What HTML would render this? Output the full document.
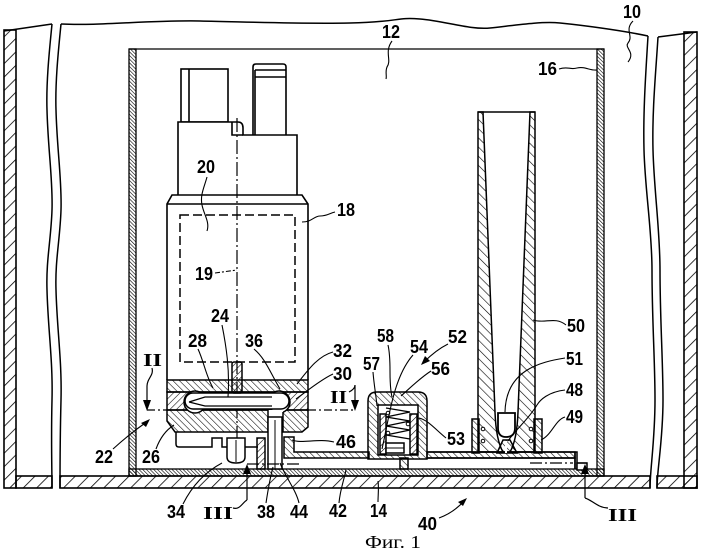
<!DOCTYPE html>
<html><head><meta charset="utf-8"><style>
html,body{margin:0;padding:0;background:#fff;}
svg{display:block;}
text{font-family:"Liberation Sans",sans-serif;font-weight:bold;font-size:18px;fill:#000;}
text.r{font-family:"Liberation Serif",serif;font-weight:normal;}
text.rb{font-family:"Liberation Serif",serif;font-weight:bold;}
</style></head><body>
<svg width="702" height="555" viewBox="0 0 702 555" xmlns="http://www.w3.org/2000/svg">
<defs>
<pattern id="hT" width="9.5" height="9.5" patternUnits="userSpaceOnUse" patternTransform="rotate(45)"><line x1="0" y1="0" x2="0" y2="9.5" stroke="#000" stroke-width="1.6"/></pattern>
<pattern id="hF" width="2.6" height="2.6" patternUnits="userSpaceOnUse" patternTransform="rotate(-45)"><line x1="0" y1="0" x2="0" y2="2.6" stroke="#000" stroke-width="1.2"/></pattern>
<pattern id="hA" width="4.6" height="4.6" patternUnits="userSpaceOnUse" patternTransform="rotate(-45)"><line x1="0" y1="0" x2="0" y2="4.6" stroke="#000" stroke-width="1.1"/></pattern>
<pattern id="hB" width="4.6" height="4.6" patternUnits="userSpaceOnUse" patternTransform="rotate(45)"><line x1="0" y1="0" x2="0" y2="4.6" stroke="#000" stroke-width="1.1"/></pattern>
<pattern id="hJ" width="6.5" height="6.5" patternUnits="userSpaceOnUse" patternTransform="rotate(-45)"><line x1="0" y1="0" x2="0" y2="6.5" stroke="#000" stroke-width="1.2"/></pattern>
</defs>

<!-- ===== Tank 10 ===== -->
<g stroke="#000" stroke-width="1.6">
  <rect x="4" y="30" width="12" height="458" fill="url(#hT)"/>
  <rect x="16" y="476" width="36" height="12" fill="url(#hT)"/>
  <rect x="60" y="476" width="590" height="12" fill="url(#hT)"/>
  <rect x="657" y="476" width="40" height="12" fill="url(#hT)"/>
  <rect x="684" y="32" width="13" height="456" fill="url(#hT)"/>
</g>
<g stroke="#000" stroke-width="1.5" fill="none">
  <path d="M4,31 L52,24"/>
  <path d="M52,24 C50,45 46,80 47,110 C48,150 53,180 52,210 C51,240 46,260 47,290 C48,330 53,360 52,400 C51,440 52,470 52,488"/>
  <path d="M61,24 C59,45 55,80 56,110 C57,150 62,180 61,210 C60,240 55,260 56,290 C57,330 62,360 61,400 C60,440 60,470 60,488"/>
  <path d="M61,24 C100,26 150,20 200,21 S300,24 350,23 S395,17 420,19 S470,30 490,28 S540,21 560,23 S620,30 648,36"/>
  <path d="M648,36 C646,70 643,110 644,150 C645,190 652,230 652,270 C652,320 655,360 655,400 C655,440 650,470 650,488"/>
  <path d="M658,37 C656,70 652,110 653,150 C654,190 660,230 660,270 C660,320 663,360 663,400 C663,440 657,470 657,488"/>
  <path d="M658,37 L697,32"/>
</g>

<!-- ===== Reservoir 12 / wall 16 ===== -->
<g stroke="#000" stroke-width="1.3">
  <rect x="129" y="49" width="7" height="427" fill="url(#hF)"/>
  <rect x="597" y="49" width="7" height="427" fill="url(#hF)"/>
  <rect x="129" y="469" width="475" height="7" fill="url(#hF)"/>
  <line x1="129" y1="49" x2="604" y2="49"/>
</g>

<!-- ===== Pump 18 ===== -->
<g stroke="#000" stroke-width="1.6" fill="#fff">
  <rect x="181" y="69" width="47" height="53"/>
  <line x1="189" y1="69" x2="189" y2="122"/>
  <path d="M253,135 V67 Q253,64 256,64 H283 Q286,64 286,67 V135"/>
  <line x1="255" y1="70" x2="286" y2="70"/>
  <line x1="255" y1="77" x2="286" y2="77"/>
  <line x1="255" y1="70" x2="255" y2="135"/>
  <path d="M178,195 V122 H238 Q243,122 243,128 V135 H297 V195"/>
  <path d="M232,122 V135 H243" fill="none"/>
  <path d="M167,380 V204 L172,195 H302 L308,204 V380"/>
  <line x1="167" y1="204" x2="308" y2="204"/>
</g>
<rect x="180" y="215" width="115" height="147" fill="none" stroke="#000" stroke-width="1.5" stroke-dasharray="9,4"/>
<!-- axis 19 -->
<line x1="237" y1="118" x2="237" y2="463" stroke="#000" stroke-width="1.2" stroke-dasharray="14,3,2,3"/>

<!-- lower bands -->
<g stroke="#000" stroke-width="1.5">
  <rect x="167" y="380" width="141" height="12" fill="url(#hA)"/>
  <rect x="167" y="392" width="141" height="18" fill="url(#hB)"/>
  <path d="M167,410 H308 V427 L302,432 H175 L167,421 Z" fill="url(#hA)"/>
  <circle cx="195" cy="402" r="11" fill="#fff"/>
  <circle cx="279" cy="402" r="11" fill="#fff"/>
  <rect x="185" y="393" width="104" height="16" rx="8" fill="#fff"/>
  <path d="M268,410 H283 V432 H268 Z" fill="#fff" stroke="none"/>
  <line x1="268" y1="410" x2="268" y2="432"/>
  <line x1="283" y1="412" x2="283" y2="432"/>
  <path d="M189,402 L205,397 H272 M189,402 L205,406 H272" fill="none" stroke-width="1.2"/>
  <rect x="232" y="362" width="10" height="31" rx="2" fill="url(#hB)"/>
  <path d="M176,432 V444 Q176,447 179,447 H212 V438 H222 V447 H227" fill="none"/>
  <path d="M245,447 H258" fill="none"/>
  <path d="M227,438 H245 V457 Q245,463 236,463 Q227,463 227,457 Z" fill="#fff"/>
  <line x1="236" y1="440" x2="236" y2="462" stroke-width="1"/>
  <rect x="257" y="438" width="8" height="31" fill="url(#hB)"/>
  <rect x="268" y="417" width="14" height="52" fill="#fff"/>
  <line x1="275" y1="420" x2="275" y2="469" stroke-width="1"/>
  <path d="M284,437 H294 V452 H369 V458 H284 Z" fill="url(#hA)"/>
</g>

<!-- ===== Pipe 42 & valve 52 ===== -->
<g stroke="#000" stroke-width="1.5">
  <path d="M368,459 V401 Q368,392 377,392 H418 Q427,392 427,401 V459 Z" fill="url(#hA)"/>
  <rect x="378" y="405" width="40" height="50" fill="#fff"/>
  <rect x="380" y="414" width="6" height="40" fill="url(#hB)"/>
  <rect x="410" y="414" width="7" height="40" fill="url(#hB)"/>
  <path d="M386,408 L410,412 L386,417 L410,421 L386,426 L410,430 L386,435 L410,439" fill="none" stroke-width="1.3"/>
  <circle cx="388" cy="413" r="1.8" fill="#fff" stroke-width="1"/>
  <circle cx="408" cy="424" r="1.8" fill="#fff" stroke-width="1"/>
  <circle cx="388" cy="433" r="1.8" fill="#fff" stroke-width="1"/>
  <rect x="386" y="443" width="18" height="10" fill="#fff"/>
  <line x1="386" y1="448" x2="404" y2="448" stroke-width="1"/>
  <rect x="400" y="458" width="8" height="11" fill="url(#hA)"/>
  <path d="M427,452 H577 V469 M427,458 H575 V469" fill="none"/>
  <rect x="427" y="452" width="148" height="6" fill="url(#hA)"/>
  <line x1="575" y1="452" x2="575" y2="469"/>
  <rect x="577" y="463" width="10" height="7" fill="#fff"/>
</g>
<line x1="530" y1="463" x2="573" y2="463" stroke="#000" stroke-width="1.3" stroke-dasharray="12,3,2,3"/>
<line x1="247" y1="464" x2="300" y2="464" stroke="#000" stroke-width="1.2" stroke-dasharray="12,3,2,3"/>

<!-- ===== Jet pump 50 / 48 ===== -->
<g stroke="#000" stroke-width="1.5">
  <path d="M478,112 L483,112 L495,412 Q496,440 503,452 H478 Z" fill="url(#hJ)"/>
  <path d="M530,112 L535,112 L535,452 H510 Q517,440 518,412 Z" fill="url(#hJ)"/>
  <line x1="478" y1="112" x2="535" y2="112"/>
  <rect x="472" y="419" width="7" height="34" fill="url(#hA)"/>
  <rect x="534" y="419" width="8" height="34" fill="url(#hA)"/>
  <circle cx="483" cy="429" r="1.8" fill="#fff" stroke-width="1"/>
  <circle cx="483" cy="441" r="1.8" fill="#fff" stroke-width="1"/>
  <circle cx="531" cy="429" r="1.8" fill="#fff" stroke-width="1"/>
  <circle cx="531" cy="441" r="1.8" fill="#fff" stroke-width="1"/>
  <path d="M498,413 H515 V428 Q515,437 506,437 Q498,437 498,428 Z" fill="#fff" stroke-width="1.8"/>
  <path d="M497,453 L503,440 H510 L517,453 Z" fill="url(#hA)"/>
  <line x1="506" y1="441" x2="506" y2="453" stroke="#fff" stroke-width="2"/>
</g>

<!-- ===== Section markers ===== -->
<g stroke="#000" stroke-width="1.2" fill="none">
  <line x1="147" y1="410" x2="168" y2="410" stroke-dasharray="8,3,2,3"/>
  <line x1="308" y1="410" x2="355" y2="410" stroke-dasharray="8,3,2,3"/>
  <path d="M152,368 C154,376 147,378 147,386 V402"/>
  <path d="M349,392 C353,390 355,388 355,385 V402"/>
  <line x1="247" y1="472" x2="247" y2="500"/>
  <path d="M233,508 C240,510 242,503 247,500"/>
  <line x1="585" y1="472" x2="585" y2="498"/>
  <line x1="577" y1="463" x2="587" y2="463"/>
  <path d="M608,508 C598,508 592,500 585,498"/>
</g>
<g fill="#000">
  <path d="M143,400 L151,400 L147,411 Z"/>
  <path d="M351,400 L359,400 L355,411 Z"/>
  <path d="M243,474 L251,474 L247,464 Z"/>
  <path d="M581,474 L589,474 L585,464 Z"/>
</g>

<!-- ===== Leaders ===== -->
<g stroke="#000" stroke-width="1.1" fill="none">
  <path d="M633,21 C624,30 634,36 628,43 C624,48 636,52 628,62"/>
  <path d="M392,41 C384,52 392,60 387,67 C385,72 387,76 386,79"/>
  <path d="M559,69 C568,66 570,70 577,68 C585,66 590,71 597,70"/>
  <path d="M302,222 C312,222 314,216 320,216 C327,216 330,213 335,212"/>
  <path d="M207,177 C204,188 200,195 202,205 C204,215 210,222 207,231"/>
  <path d="M215,273 L237,270" stroke-dasharray="5,2,2,2"/>
  <path d="M222,325 C226,345 230,370 228,397"/>
  <path d="M198,349 C204,362 206,376 213,388"/>
  <path d="M254,349 C265,358 270,372 280,389"/>
  <path d="M333,352 C318,356 308,370 297,384"/>
  <path d="M333,374 C320,380 306,392 296,399"/>
  <path d="M334,442 C318,438 302,444 292,440"/>
  <path d="M113,449 C125,438 135,430 148,421"/>
  <path d="M156,449 C160,438 166,430 174,425"/>
  <path d="M183,504 C192,486 205,472 222,463"/>
  <path d="M266,503 C268,490 270,478 273,467"/>
  <path d="M299,503 C296,490 286,478 280,463"/>
  <path d="M339,503 C340,490 344,480 346,470"/>
  <path d="M378,502 C378,495 379,488 378,481"/>
  <path d="M439,518 C450,514 458,508 465,500"/>
  <path d="M448,344 C440,348 432,354 424,362"/>
  <path d="M388,345 C392,362 388,380 392,397"/>
  <path d="M413,355 C398,372 392,400 388,420 C386,430 384,440 382,449"/>
  <path d="M373,372 C374,385 376,395 377,406"/>
  <path d="M431,371 C420,378 410,388 401,396"/>
  <path d="M446,438 C436,430 428,420 419,418"/>
  <path d="M566,325 C555,316 545,324 533,320"/>
  <path d="M565,358 C540,362 506,370 505,412"/>
  <path d="M565,390 C548,392 540,400 537,405 C528,420 515,430 508,441"/>
  <path d="M565,417 C555,420 552,435 541,440"/>
</g>
<g fill="#000">
  <path d="M150,419 L141,423 L146,427 Z"/>
  <path d="M467,498 L458,502 L463,506 Z"/>
  <path d="M421,365 L430,361 L425,356 Z"/>
</g>

<!-- ===== Labels ===== -->
<g>
  <text x="623" y="18" textLength="18" lengthAdjust="spacingAndGlyphs">10</text>
  <text x="382" y="38" textLength="18" lengthAdjust="spacingAndGlyphs">12</text>
  <text x="538" y="75" textLength="19" lengthAdjust="spacingAndGlyphs">16</text>
  <text x="337" y="216" textLength="18" lengthAdjust="spacingAndGlyphs">18</text>
  <text x="197" y="173" textLength="18" lengthAdjust="spacingAndGlyphs">20</text>
  <text x="195" y="280" textLength="18" lengthAdjust="spacingAndGlyphs">19</text>
  <text x="211" y="322" textLength="18" lengthAdjust="spacingAndGlyphs">24</text>
  <text x="188" y="347" textLength="19" lengthAdjust="spacingAndGlyphs">28</text>
  <text x="245" y="347" textLength="18" lengthAdjust="spacingAndGlyphs">36</text>
  <text x="333" y="357" textLength="19" lengthAdjust="spacingAndGlyphs">32</text>
  <text x="333" y="380" textLength="19" lengthAdjust="spacingAndGlyphs">30</text>
  <text x="95" y="463" textLength="18" lengthAdjust="spacingAndGlyphs">22</text>
  <text x="142" y="463" textLength="18" lengthAdjust="spacingAndGlyphs">26</text>
  <text x="336" y="448" textLength="20" lengthAdjust="spacingAndGlyphs">46</text>
  <text x="167" y="518" textLength="18" lengthAdjust="spacingAndGlyphs">34</text>
  <text x="257" y="518" textLength="18" lengthAdjust="spacingAndGlyphs">38</text>
  <text x="290" y="518" textLength="18" lengthAdjust="spacingAndGlyphs">44</text>
  <text x="329" y="517" textLength="18" lengthAdjust="spacingAndGlyphs">42</text>
  <text x="370" y="517" textLength="17" lengthAdjust="spacingAndGlyphs">14</text>
  <text x="418" y="530" textLength="19" lengthAdjust="spacingAndGlyphs">40</text>
  <text x="377" y="342" textLength="17" lengthAdjust="spacingAndGlyphs">58</text>
  <text x="410" y="353" textLength="18" lengthAdjust="spacingAndGlyphs">54</text>
  <text x="448" y="343" textLength="19" lengthAdjust="spacingAndGlyphs">52</text>
  <text x="363" y="370" textLength="17" lengthAdjust="spacingAndGlyphs">57</text>
  <text x="431" y="375" textLength="19" lengthAdjust="spacingAndGlyphs">56</text>
  <text x="447" y="445" textLength="18" lengthAdjust="spacingAndGlyphs">53</text>
  <text x="567" y="332" textLength="18" lengthAdjust="spacingAndGlyphs">50</text>
  <text x="566" y="365" textLength="17" lengthAdjust="spacingAndGlyphs">51</text>
  <text x="566" y="396" textLength="17" lengthAdjust="spacingAndGlyphs">48</text>
  <text x="566" y="423" textLength="17" lengthAdjust="spacingAndGlyphs">49</text>
  <text class="rb" x="143" y="366" font-size="24" textLength="19" lengthAdjust="spacingAndGlyphs">II</text>
  <text class="rb" x="330" y="403" font-size="24" textLength="17" lengthAdjust="spacingAndGlyphs">II</text>
  <text class="rb" x="203" y="519" font-size="24" textLength="30" lengthAdjust="spacingAndGlyphs">III</text>
  <text class="rb" x="608" y="521" font-size="24" textLength="29" lengthAdjust="spacingAndGlyphs">III</text>
  <text class="r" x="365" y="548" font-size="23" textLength="56" lengthAdjust="spacingAndGlyphs">Фиг. 1</text>
</g>
</svg>
</body></html>
